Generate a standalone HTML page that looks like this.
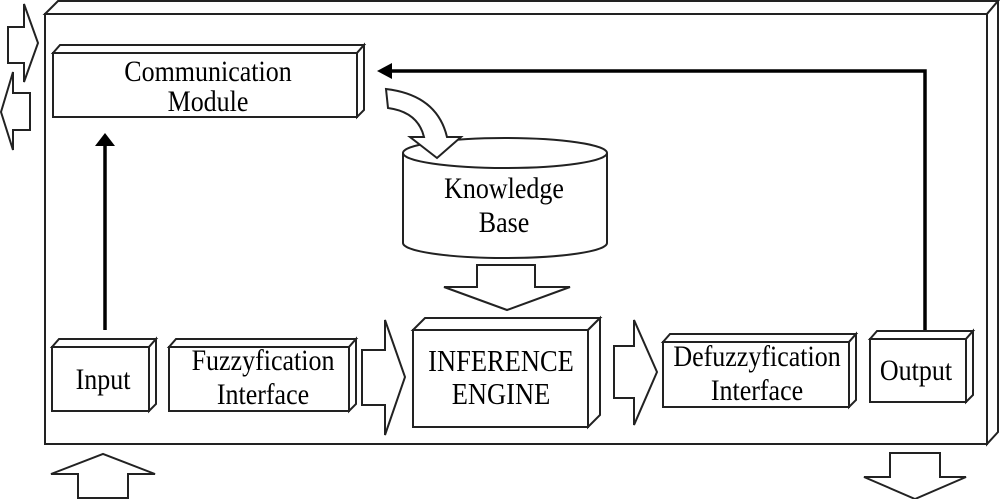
<!DOCTYPE html>
<html><head><meta charset="utf-8"><style>
html,body{margin:0;padding:0;background:#fff}
svg{display:block}
text{font-family:"Liberation Serif",serif;fill:#000}
</style></head><body>
<svg width="1000" height="499" viewBox="0 0 1000 499" xmlns="http://www.w3.org/2000/svg">
<g fill="#fff" stroke="#222" stroke-width="2" stroke-linejoin="miter">
<polygon points="45,14 58,1 998,1 987,14"/>
<polygon points="987,14 998,1 998,432 987,444"/>
<rect x="45" y="14" width="942" height="430"/>

<polygon points="8,27 24,27 24,4 38,43 24,82 24,63 8,63"/>
<polygon points="30,93 13,93 13,72 1,112 13,150 13,130 30,130"/>
<polygon points="78,498 78,474 51,474 103,454 155,474 128,474 128,498"/>
<polygon points="890,453 940,453 940,477 966,477 915,499 864,477 890,477"/>

<polygon points="53,53 60,45 364,45 357,53"/>
<polygon points="357,53 364,45 364,110 357,117"/>
<rect x="53" y="53" width="304" height="64"/>

<polygon points="52,347 59,339 156,339 149,347"/>
<polygon points="149,347 156,339 156,404 149,411"/>
<rect x="52" y="347" width="97" height="64"/>

<polygon points="169,347 176,339 356,339 349,347"/>
<polygon points="349,347 356,339 356,404 349,411"/>
<rect x="169" y="347" width="180" height="64"/>

<polygon points="413,330 425,318 600,318 588,330"/>
<polygon points="588,330 600,318 600,415 588,427"/>
<rect x="413" y="330" width="175" height="97"/>

<polygon points="663,342 670,334 856,334 849,342"/>
<polygon points="849,342 856,334 856,400 849,407"/>
<rect x="663" y="342" width="186" height="65"/>

<polygon points="870,339 877,331 973,331 966,339"/>
<polygon points="966,339 973,331 973,395 966,402"/>
<rect x="870" y="339" width="96" height="63"/>

<polygon points="362,350 385,350 385,320 405,377 385,435 385,405 362,405"/>
<polygon points="614,346 634,346 634,320 657,372 634,425 634,398 614,398"/>
<polygon points="477,265 535,265 535,287 570,287 507,310 444,287 477,287"/>

<path d="M403,153 L403,243 A102,15 0 0 0 607,243 L607,153"/>
<ellipse cx="505" cy="153" rx="102" ry="15"/>

<path d="M386,89 Q437,95 447,137 L461,137 L437,158 L410,137 L424,137 Q418,112 388,108 Z"/>
</g>

<g stroke="#000" stroke-width="3.5" fill="none">
<polyline points="390,71 925,71 925,330"/>
<line x1="105" y1="143" x2="105" y2="330"/>
</g>
<polygon points="377,71 392,63 392,79" fill="#000"/>
<polygon points="105,133 95,146 115,146" fill="#000"/>

<g font-size="26" text-anchor="middle">
<text transform="translate(208,81) scale(1,1.15)">Communication</text>
<text transform="translate(208,111) scale(1,1.15)">Module</text>
<text transform="translate(504,198) scale(1,1.15)">Knowledge</text>
<text transform="translate(504,232) scale(1,1.15)">Base</text>
<text transform="translate(103,389) scale(1,1.15)">Input</text>
<text transform="translate(263,370) scale(1,1.15)">Fuzzyfication</text>
<text transform="translate(263,404) scale(1,1.15)">Interface</text>
<text transform="translate(501,371) scale(1,1.15)" font-size="26.5">INFERENCE</text>
<text transform="translate(501,404) scale(1,1.15)" font-size="26.5">ENGINE</text>
<text transform="translate(757,366) scale(1,1.15)">Defuzzyfication</text>
<text transform="translate(757,400) scale(1,1.15)">Interface</text>
<text transform="translate(916,380) scale(1,1.15)">Output</text>
</g>
</svg>
</body></html>
